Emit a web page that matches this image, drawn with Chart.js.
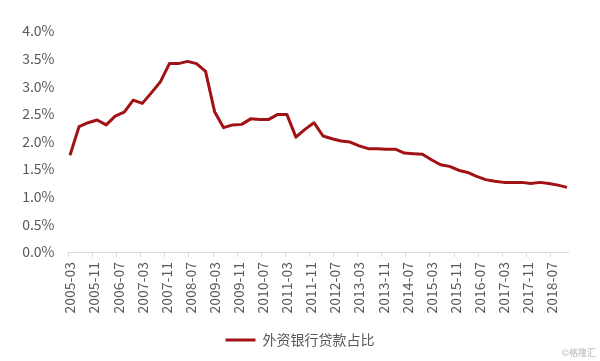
<!DOCTYPE html>
<html>
<head>
<meta charset="utf-8">
<script src="https://cdn.jsdelivr.net/npm/chart.js@4"></script>
<style>
  html, body { margin: 0; padding: 0; background: #fff; }
  #wrap { position: relative; width: 600px; height: 361px; }
  #mark { position: absolute; right: 4px; bottom: 2px; font: 9px "Noto Sans CJK SC", sans-serif; color: #b5b5b5; }
</style>
</head>
<body>
<div id="wrap">
  <canvas id="c" width="600" height="361"></canvas>
  <div id="mark">©格隆汇</div>
</div>
<script>
// Quarterly observation dates (2005-03 … 2018-12)
const quarterDates = [
  '2005-03','2005-06','2005-09','2005-12','2006-03','2006-06','2006-09','2006-12',
  '2007-03','2007-06','2007-09','2007-12','2008-03','2008-06','2008-09','2008-12',
  '2009-03','2009-06','2009-09','2009-12','2010-03','2010-06','2010-09','2010-12',
  '2011-03','2011-06','2011-09','2011-12','2012-03','2012-06','2012-09','2012-12',
  '2013-03','2013-06','2013-09','2013-12','2014-03','2014-06','2014-09','2014-12',
  '2015-03','2015-06','2015-09','2015-12','2016-03','2016-06','2016-09','2016-12',
  '2017-03','2017-06','2017-09','2017-12','2018-03','2018-06','2018-09','2018-12'
];
// 外资银行贷款占比 (%)
const foreignBankLoanShare = [
  1.75, 2.27, 2.34, 2.39, 2.30, 2.46, 2.53, 2.75,
  2.69, 2.88, 3.08, 3.41, 3.41, 3.45, 3.41, 3.27,
  2.54, 2.25, 2.30, 2.31, 2.41, 2.40, 2.40, 2.49,
  2.49, 2.08, 2.22, 2.34, 2.10, 2.05, 2.01, 1.99,
  1.92, 1.87, 1.87, 1.86, 1.86, 1.79, 1.78, 1.77,
  1.67, 1.58, 1.55, 1.48, 1.44, 1.37, 1.31, 1.28,
  1.26, 1.26, 1.26, 1.24, 1.26, 1.24, 1.21, 1.17
];
// Labels shown on the x axis (every 8 months)
const tickLabels = [
  '2005-03','2005-11','2006-07','2007-03','2007-11','2008-07','2009-03','2009-11',
  '2010-07','2011-03','2011-11','2012-07','2013-03','2013-11','2014-07','2015-03',
  '2015-11','2016-07','2017-03','2017-11','2018-07'
];
const seriesName = '外资银行贷款占比';

// Monthly category axis 2005-03 … 2018-12
const months = [];
for (let y = 2005; y <= 2018; y++) {
  for (let m = 1; m <= 12; m++) {
    if (y === 2005 && m < 3) continue;
    months.push(y + '-' + String(m).padStart(2, '0'));
  }
}
const points = quarterDates.map((d, i) => ({ x: d, y: foreignBankLoanShare[i] }));

const FONT = '"Noto Sans CJK SC", "Noto Sans", sans-serif';
const TXT = '#595959';
const AXIS = '#d9d9d9';
const RED = '#A11214';

new Chart(document.getElementById('c'), {
  type: 'line',
  data: {
    labels: months,
    datasets: [{
      label: seriesName,
      data: points,
      borderColor: RED,
      backgroundColor: RED,
      borderWidth: 3,
      pointRadius: 0,
      tension: 0,
      spanGaps: true,
      borderJoinStyle: 'round'
    }]
  },
  options: {
    responsive: false,
    animation: false,
    devicePixelRatio: 1,
    layout: { padding: { left: 0, right: 0, top: 31, bottom: 4 } },
    scales: {
      x: {
        type: 'category',
        offset: true,
        grid: {
          offset: true,
          drawOnChartArea: false,
          drawTicks: true,
          tickLength: 5,
          color: c => (c.index % 8 === 0 && c.index < months.length) ? AXIS : 'rgba(0,0,0,0)'
        },
        border: { display: true, color: AXIS, width: 1 },
        ticks: {
          autoSkip: false,
          maxRotation: 90,
          minRotation: 90,
          padding: 5,
          color: TXT,
          font: { family: FONT, size: 14 },
          callback: function (v, i) {
            const lab = months[i];
            return tickLabels.includes(lab) ? lab : '';
          }
        },
        afterFit: s => { s.height = 71; }
      },
      y: {
        min: 0,
        max: 4,
        grid: { display: false, drawTicks: false },
        border: { display: false },
        ticks: {
          stepSize: 0.5,
          padding: 14,
          color: TXT,
          font: { family: FONT, size: 14 },
          callback: v => v.toFixed(1) + '%'
        },
        afterFit: s => { s.width = 68.5; }
      },
      yRight: {
        position: 'right',
        display: true,
        grid: { display: false, drawTicks: false },
        border: { display: false },
        ticks: { display: false },
        afterFit: s => { s.width = 31.5; }
      }
    },
    plugins: {
      legend: {
        display: true,
        position: 'bottom',
        labels: {
          boxWidth: 30,
          boxHeight: 3,
          padding: 10,
          color: TXT,
          font: { family: FONT, size: 14 },
          generateLabels: chart =>
            Chart.defaults.plugins.legend.labels.generateLabels(chart)
              .map(l => Object.assign(l, { lineWidth: 0 }))
        }
      },
      tooltip: { enabled: false }
    }
  }
});
</script>
</body>
</html>
